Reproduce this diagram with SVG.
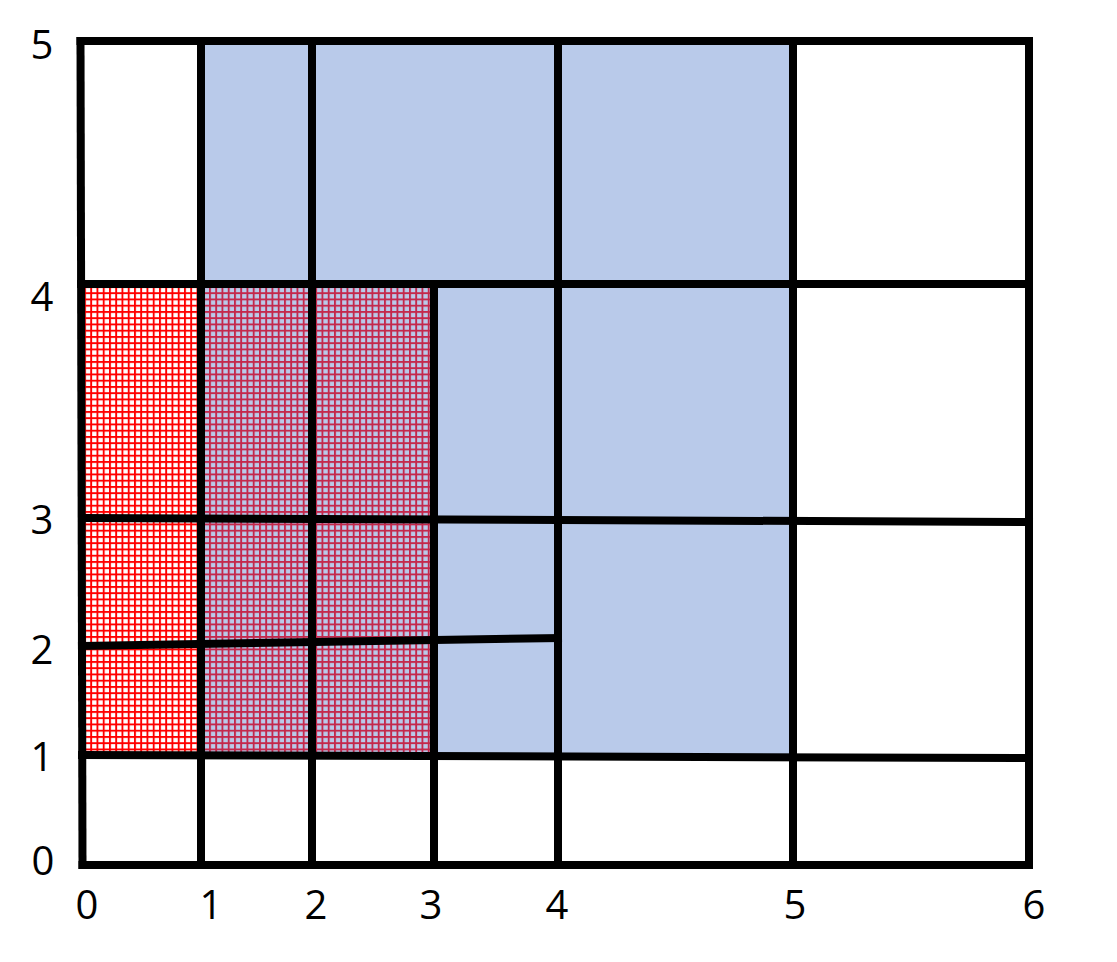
<svg xmlns="http://www.w3.org/2000/svg" width="1117" height="962" viewBox="0 0 1117 962">
<style>
.grid line{stroke:#000;stroke-width:8;stroke-linecap:square}
.lbl{font-family:"Open Sans","Liberation Sans",sans-serif;font-size:40px;fill:#000;text-anchor:middle}
.blue{fill:#B9CAEA}
</style>
<defs>
<pattern id="hr" patternUnits="userSpaceOnUse" x="84" y="286" width="6.25" height="6.25">
<rect x="0" y="0" width="1.9" height="6.25" fill="#ff0000"/>
<rect x="0" y="0" width="6.25" height="1.9" fill="#ff0000"/>
</pattern>
<pattern id="hb" patternUnits="userSpaceOnUse" x="84" y="286" width="6.25" height="6.25">
<rect x="0" y="0" width="1.9" height="6.25" fill="#C4284C"/>
<rect x="0" y="0" width="6.25" height="1.9" fill="#C4284C"/>
</pattern>
</defs>
<rect width="1117" height="962" fill="#fff"/>
<g id="fills">
<rect class="blue" x="201" y="41" width="592" height="243"/>
<rect class="blue" x="201" y="284" width="592" height="472"/>
<rect id="hatch-white" x="82" y="284" width="119" height="472" fill="url(#hr)"/>
<rect id="hatch-blue" x="201" y="284" width="233" height="472" fill="url(#hb)"/>
</g>
<g id="grid" class="grid">
<line x1="80.5" y1="41" x2="82.5" y2="865"/>
<line x1="201" y1="41" x2="201" y2="865"/>
<line x1="312" y1="41" x2="312" y2="865"/>
<line x1="434" y1="284" x2="434" y2="865"/>
<line x1="558" y1="41" x2="558" y2="865"/>
<line x1="793" y1="41" x2="793" y2="865"/>
<line x1="1029" y1="41" x2="1029" y2="865"/>
<line x1="80.5" y1="41" x2="1029" y2="41"/>
<line x1="81" y1="284" x2="1029" y2="284"/>
<line x1="82" y1="518" x2="1029" y2="522"/>
<line x1="82" y1="646" x2="558" y2="638"/>
<line x1="82" y1="755" x2="1029" y2="758"/>
<line x1="82.5" y1="865" x2="1029" y2="865"/>
</g>
<g id="labels">
<text class="lbl" x="42" y="59">5</text>
<text class="lbl" x="42" y="311">4</text>
<text class="lbl" x="42" y="534">3</text>
<text class="lbl" x="42" y="664">2</text>
<text class="lbl" x="42" y="771">1</text>
<text class="lbl" x="43" y="875">0</text>
<text class="lbl" x="87" y="919">0</text>
<text class="lbl" x="211" y="919">1</text>
<text class="lbl" x="316" y="919">2</text>
<text class="lbl" x="431" y="919">3</text>
<text class="lbl" x="557" y="919">4</text>
<text class="lbl" x="795" y="919">5</text>
<text class="lbl" x="1034" y="919">6</text>
</g>
</svg>
